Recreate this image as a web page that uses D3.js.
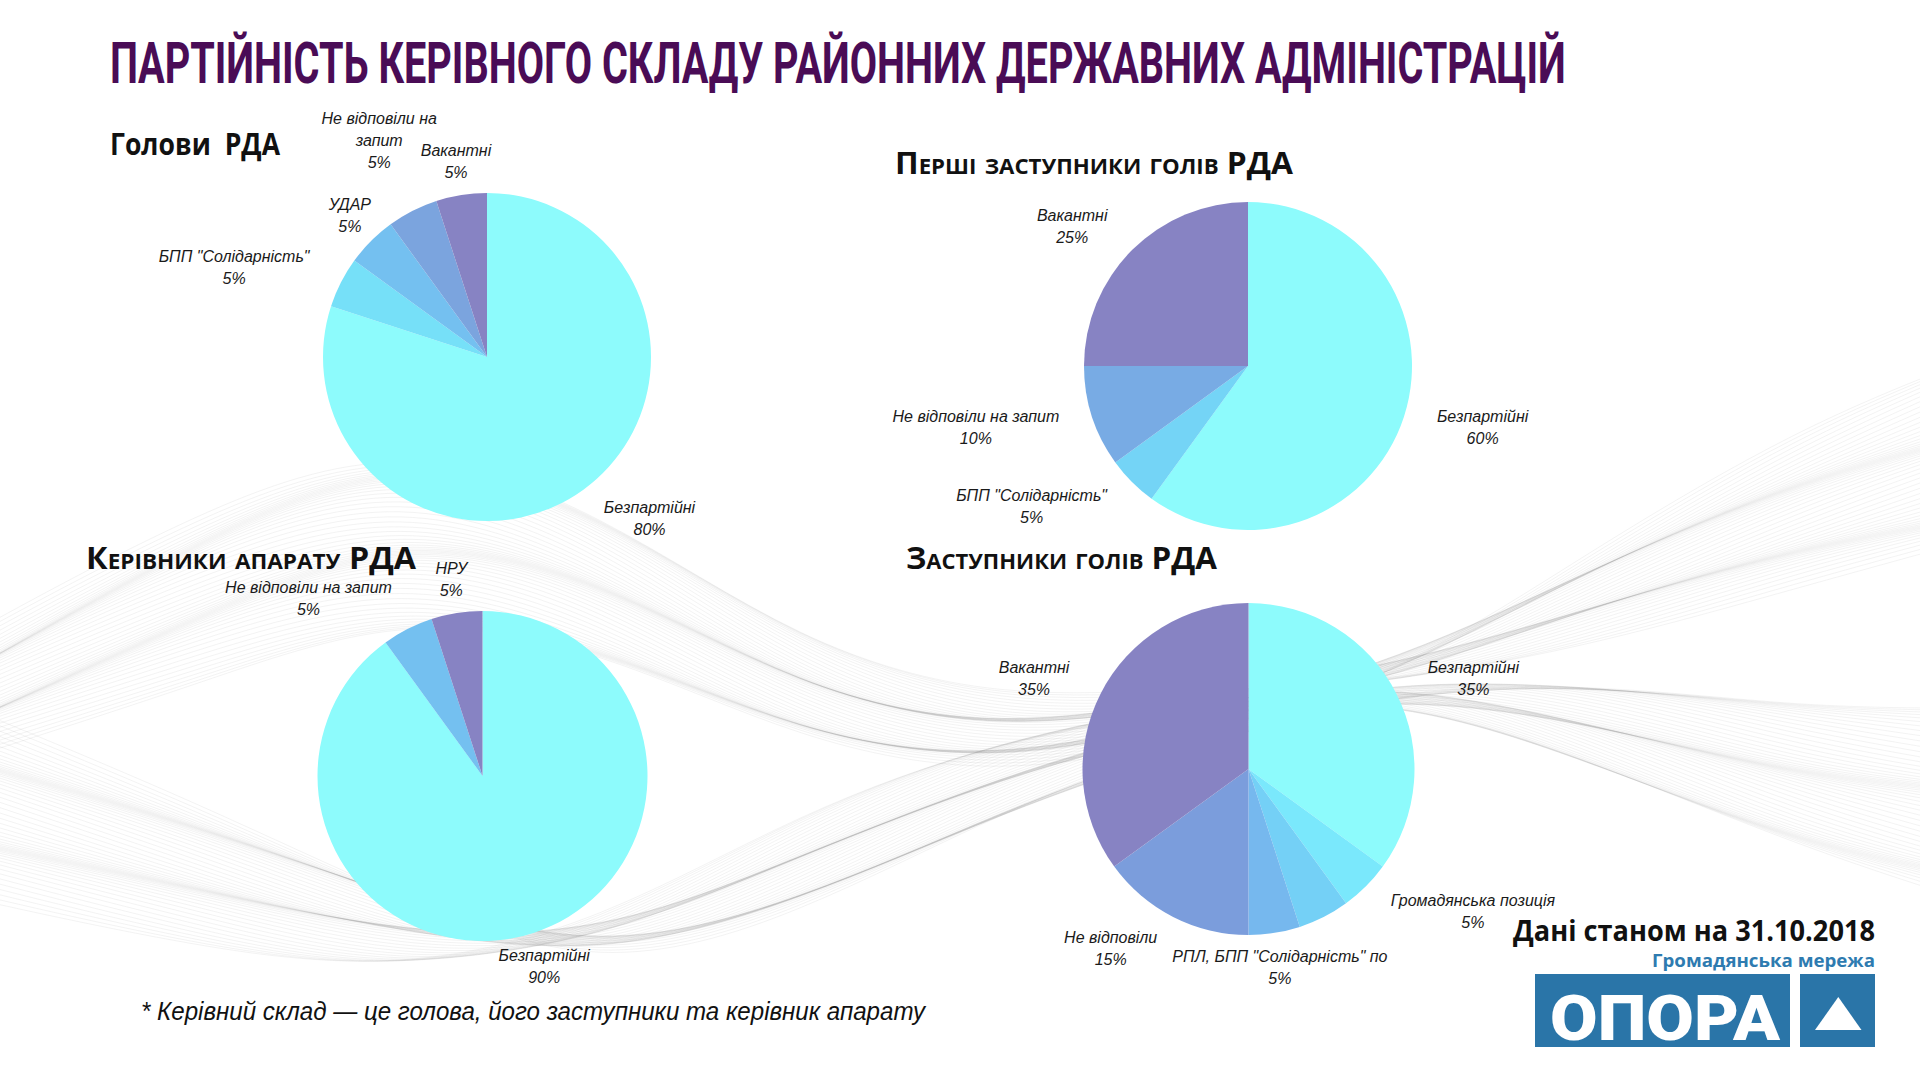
<!DOCTYPE html>
<html>
<head>
<meta charset="utf-8">
<script src="https://cdn.jsdelivr.net/npm/d3@7"></script>
<style>
  body { margin: 0; background: #fff; }
  svg { display: block; }
</style>
</head>
<body>
<svg id="chart"></svg>
<script>
// ---- data ----
var holovyNames  = ["Безпартійні", "БПП \"Солідарність\"", "УДАР", "Не відповіли на\nзапит", "Вакантні"]
var holovyValues = [80, 5, 5, 5, 5]

var pershiNames  = ["Безпартійні", "БПП \"Солідарність\"", "Не відповіли на запит", "Вакантні"]
var pershiValues = [60, 5, 10, 25]

var aparatNames  = ["Безпартійні", "Не відповіли на запит", "НРУ"]
var aparatValues = [90, 5, 5]

// one 5% slice has no label in the original
var zastNames  = ["Безпартійні", "Громадянська позиція", "", "РПЛ, БПП \"Солідарність\" по", "Не відповіли", "Вакантні"]
var zastValues = [35, 5, 5, 5, 15, 35]

var mainTitle = "ПАРТІЙНІСТЬ КЕРІВНОГО СКЛАДУ РАЙОННИХ ДЕРЖАВНИХ АДМІНІСТРАЦІЙ"
var chartTitles = ["Голови  РДА", "Перші заступники голів РДА", "Керівники апарату РДА", "Заступники голів РДА"]
var footnote = "* Керівний склад — це голова, його заступники та керівник апарату"
var dateNote = "Дані станом на 31.10.2018"
var orgLine = "Громадянська мережа"
var orgName = "ОПОРА"

var mainCode = function(){
    var screen = {width: 1920, height: 1080}

    var svg = d3.select("#chart")
        .attr("width", screen.width)
        .attr("height", screen.height)

    // gradient of slice colours, cyan -> violet
    var sliceColor = d3.scaleLinear()
        .domain([0, 0.2, 0.25, 0.333, 0.4, 0.5, 0.6, 0.667, 0.75, 0.8, 1])
        .range(["#8dfbfc", "#7ae8fc", "#76e0f8", "#74d4f6", "#74d0f6", "#74c0f0",
                "#76b8ee", "#78abe4", "#7ba4de", "#7b9ddc", "#8783c3"])

    //---- background mesh ribbon (decoration only) ----
    var drawRibbon = function(xs, centers, halfWidths, count){
        var line = d3.line().curve(d3.curveBasis)
        var g = svg.append("g")
            .attr("fill", "none")
            .attr("stroke", "#7a7a7a")
            .attr("stroke-opacity", 0.1)
            .attr("stroke-width", 0.9)
        for (var i = 0; i < count; i++) {
            var f = -1 + 2 * i / (count - 1)
            var pts = xs.map(function(x, k){
                //small wobble so neighbouring lines cross like a mesh
                return [x, centers[k] + halfWidths[k] * f + 9 * Math.sin(f * 7 + k * 1.1)]
            })
            g.append("path").attr("d", line(pts))
        }
    }
    var ribbonX = [-40, 200, 400, 600, 800, 1000, 1200, 1400, 1600, 1800, 1960]
    drawRibbon(ribbonX,
        [700, 590, 520, 580, 700, 745, 710, 672, 590, 510, 460],
        [55, 85, 90, 75, 50, 35, 20, -4, -45, -75, -90], 55)
    drawRibbon(ribbonX,
        [800, 870, 930, 950, 870, 780, 720, 685, 720, 780, 810],
        [90, 70, 40, -20, -50, -40, -20, 3, 45, 75, 95], 55)

    //---- main title, squeezed horizontally to the width of the original ----
    var titleText = svg.append("text")
        .attr("font-family", "Roboto").attr("font-weight", 700)
        .attr("font-size", 57)
        .attr("fill", "#4a0c56")
        .text(mainTitle)
    var natural = titleText.node().getComputedTextLength()
    titleText.attr("transform", "translate(110,83) scale(" + (1456 / natural) + ",1)")

    var pies = [
        {key: "holovy", names: holovyNames, values: holovyValues, cx: 487, cy: 357, r: 164,
         tx: 110, ty: 155, tw: 170, caps: false},
        {key: "pershi", names: pershiNames, values: pershiValues, cx: 1248, cy: 366, r: 164,
         tx: 895, ty: 174, tw: 398, caps: true},
        {key: "aparat", names: aparatNames, values: aparatValues, cx: 482.5, cy: 776, r: 165,
         tx: 86, ty: 569, tw: 330, caps: true},
        {key: "zast", names: zastNames, values: zastValues, cx: 1248.5, cy: 769, r: 166,
         tx: 906, ty: 569, tw: 311, caps: true}
    ]

    // labels the original chart pushed aside to avoid overlap
    var labelNudge = {
        "holovy|УДАР": [25, -2],
        "holovy|Не відповіли на\nзапит": [40, -40]
    }

    var drawPie = function(cfg, title){
        svg.append("text")
            .attr("x", cfg.tx).attr("y", cfg.ty)
            .attr("font-family", "Open Sans").attr("font-weight", 700)
            .attr("font-size", 30)
            .attr("font-variant", cfg.caps ? "small-caps" : "normal")
            .attr("fill", "#111")
            .style("white-space", "pre")
            .attr("textLength", cfg.tw).attr("lengthAdjust", "spacingAndGlyphs")
            .text(title)

        var g = svg.append("g")
            .attr("transform", "translate(" + cfg.cx + "," + cfg.cy + ")")

        var arcs = d3.pie().sort(null).value(function(d){ return d })(cfg.values)
        var n = cfg.values.length
        var arc = d3.arc().innerRadius(0).outerRadius(cfg.r)
        var labelR = cfg.r * 1.21
        var labelArc = d3.arc().innerRadius(labelR).outerRadius(labelR)

        g.selectAll("path")
            .data(arcs)
            .enter()
            .append("path")
            .attr("d", arc)
            .attr("fill", function(d, i){ return sliceColor(i / (n - 1)) })

        arcs.forEach(function(d, i){
            var name = cfg.names[i]
            if (!name) return
            var lines = name.split("\n").concat([cfg.values[i] + "%"])
            var p = labelArc.centroid(d)
            var t = g.append("text")
                .attr("font-family", "Liberation Sans")
                .attr("font-style", "italic")
                .attr("font-size", 16)
                .attr("fill", "#1a1a1a")
                .attr("text-anchor", "middle")
            lines.forEach(function(ln, j){
                t.append("tspan")
                    .attr("x", 0)
                    .attr("y", (j - (lines.length - 1) / 2) * 22 + 6)
                    .text(ln)
            })
            var w = t.node().getBBox().width
            var deg = (d.startAngle + d.endAngle) / 2 * 180 / Math.PI
            var nearVertical = deg <= 22.5 || deg >= 337.5 || (deg >= 157.5 && deg <= 202.5)
            var x = p[0]
            if (!nearVertical) x += (p[0] > 0 ? 1 : -1) * w / 2
            var nudge = labelNudge[cfg.key + "|" + name] || [0, 0]
            t.attr("transform", "translate(" + (x + nudge[0]) + "," + (p[1] + nudge[1]) + ")")
        })
    }

    pies.forEach(function(cfg, i){ drawPie(cfg, chartTitles[i]) })

    //---- footnote ----
    svg.append("text")
        .attr("x", 141).attr("y", 1020)
        .attr("font-family", "Liberation Sans").attr("font-style", "italic")
        .attr("font-size", 25).attr("fill", "#111")
        .attr("textLength", 784).attr("lengthAdjust", "spacingAndGlyphs")
        .text(footnote)

    //---- date + logo ----
    svg.append("text")
        .attr("x", 1513).attr("y", 941)
        .attr("font-family", "Open Sans").attr("font-weight", 700)
        .attr("font-size", 29).attr("fill", "#111")
        .attr("textLength", 362).attr("lengthAdjust", "spacingAndGlyphs")
        .text(dateNote)

    svg.append("text")
        .attr("x", 1652).attr("y", 967)
        .attr("font-family", "Open Sans").attr("font-weight", 700)
        .attr("font-size", 17).attr("fill", "#2e7bb0")
        .attr("textLength", 223).attr("lengthAdjust", "spacingAndGlyphs")
        .text(orgLine)

    var logo = svg.append("g").attr("fill", "#2a75a8")
    logo.append("rect").attr("x", 1535).attr("y", 974).attr("width", 255).attr("height", 73)
    logo.append("rect").attr("x", 1800).attr("y", 974).attr("width", 75).attr("height", 73)
    logo.append("path")
        .attr("d", "M1815,1030 L1861.5,1030 L1838.3,997 Z")
        .attr("fill", "#fff")
    logo.append("text")
        .attr("x", 1550).attr("y", 1040)
        .attr("font-family", "Roboto").attr("font-weight", 900)
        .attr("font-size", 63).attr("fill", "#fff")
        .attr("textLength", 230).attr("lengthAdjust", "spacingAndGlyphs")
        .text(orgName)
}

mainCode()
</script>
</body>
</html>
